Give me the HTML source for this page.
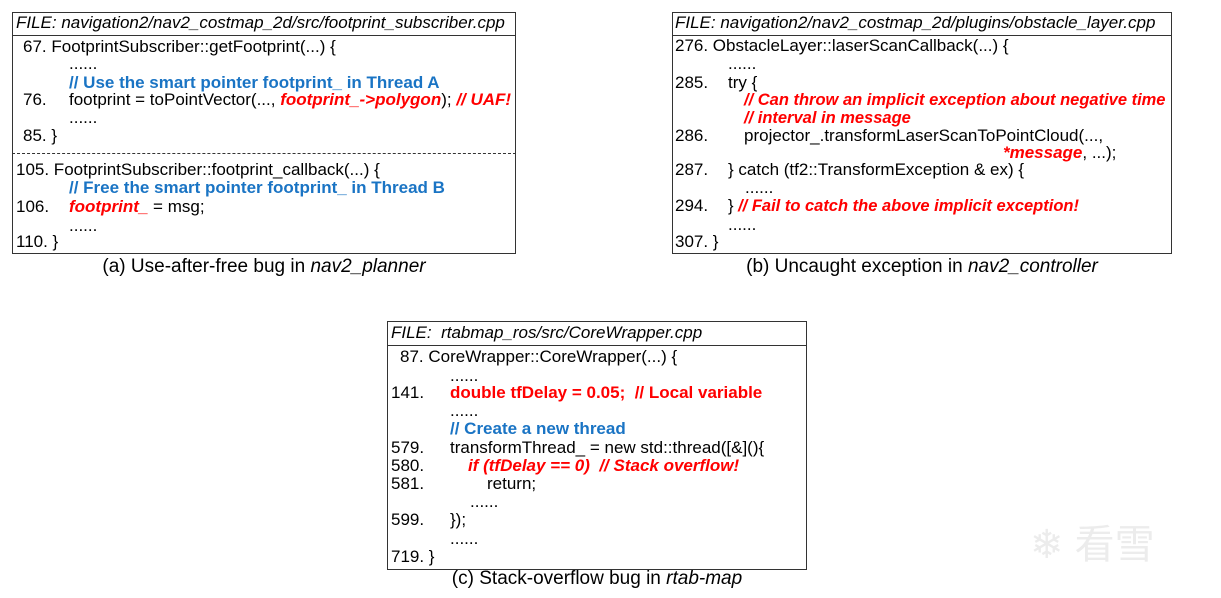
<!DOCTYPE html>
<html><head><meta charset="utf-8"><style>
body{margin:0;width:1221px;height:598px;background:#fff;position:relative;overflow:hidden;font-family:"Liberation Sans","Noto Sans CJK SC",sans-serif;color:#000}
.box{position:absolute;border:1.5px solid #333;box-sizing:border-box}
.hl{position:absolute;height:0;border-top:1.5px solid #333}
.t{position:absolute;white-space:nowrap;font-size:17px;line-height:20px;transform:translateY(-10px)}
.n{transform:translateY(-10px) scaleX(0.97);transform-origin:left center}
.r{color:#f00;font-weight:bold;font-style:italic}
.rb{color:#f00;font-weight:bold}
.b{color:#1a74c4;font-weight:bold}
.i{font-style:italic}
.cap{position:absolute;white-space:nowrap;font-size:19px;transform:translate(-50%,-50%)}
</style></head><body>
<!-- (a) -->
<div class="box" style="left:12px;top:12px;width:504px;height:242px"></div>
<div class="hl" style="left:12px;top:35px;width:504px"></div>
<div class="hl" style="left:12px;top:153px;width:504px;border-top:1.5px dashed #333"></div>
<div class="t i" style="left:16px;top:23px">FILE: navigation2/nav2_costmap_2d/src/footprint_subscriber.cpp</div>
<div class="t" style="left:23px;top:47px">67. FootprintSubscriber::getFootprint(...) {</div>
<div class="t" style="left:69px;top:64px">......</div>
<div class="t b" style="left:69px;top:83px">// Use the smart pointer footprint_ in Thread A</div>
<div class="t" style="left:23px;top:100px">76.</div>
<div class="t" style="left:69px;top:100px">footprint = toPointVector(..., <span class="r">footprint_-&gt;polygon</span>); <span class="r">// UAF!</span></div>
<div class="t" style="left:69px;top:118px">......</div>
<div class="t" style="left:23px;top:136px">85. }</div>
<div class="t" style="left:16px;top:170px">105. FootprintSubscriber::footprint_callback(...) {</div>
<div class="t b" style="left:69px;top:188px">// Free the smart pointer footprint_ in Thread B</div>
<div class="t" style="left:16px;top:207px">106.</div>
<div class="t" style="left:69px;top:207px"><span class="r">footprint_</span> = msg;</div>
<div class="t" style="left:69px;top:226px">......</div>
<div class="t" style="left:16px;top:242px">110. }</div>
<div class="cap" style="left:264px;top:267px">(a) Use-after-free bug in <i>nav2_planner</i></div>
<!-- (b) -->
<div class="box" style="left:672px;top:12px;width:500px;height:242px"></div>
<div class="hl" style="left:672px;top:35px;width:500px"></div>
<div class="t i" style="left:675px;top:23px">FILE: navigation2/nav2_costmap_2d/plugins/obstacle_layer.cpp</div>
<div class="t" style="left:675px;top:46px">276. ObstacleLayer::laserScanCallback(...) {</div>
<div class="t" style="left:728px;top:64px">......</div>
<div class="t" style="left:675px;top:83px">285.</div><div class="t" style="left:728px;top:83px">try {</div>
<div class="t r n" style="left:744px;top:100px">// Can throw an implicit exception about negative time</div>
<div class="t r n" style="left:744px;top:118px">// interval in message</div>
<div class="t" style="left:675px;top:136px">286.</div><div class="t" style="left:744px;top:136px">projector_.transformLaserScanToPointCloud(...,</div>
<div class="t" style="left:1003px;top:153px"><span class="r">*message</span>, ...);</div>
<div class="t" style="left:675px;top:170px">287.</div><div class="t" style="left:728px;top:170px">} catch (tf2::TransformException &amp; ex) {</div>
<div class="t" style="left:745px;top:188px">......</div>
<div class="t" style="left:675px;top:206px">294.</div><div class="t n" style="left:728px;top:206px">} <span class="r">// Fail to catch the above implicit exception!</span></div>
<div class="t" style="left:728px;top:225px">......</div>
<div class="t" style="left:675px;top:242px">307. }</div>
<div class="cap" style="left:922px;top:267px">(b) Uncaught exception in <i>nav2_controller</i></div>
<!-- (c) -->
<div class="box" style="left:387px;top:321px;width:420px;height:249px"></div>
<div class="hl" style="left:387px;top:345px;width:420px"></div>
<div class="t i" style="left:391px;top:333px">FILE:&nbsp; rtabmap_ros/src/CoreWrapper.cpp</div>
<div class="t" style="left:400px;top:357px">87. CoreWrapper::CoreWrapper(...) {</div>
<div class="t" style="left:450px;top:376px">......</div>
<div class="t" style="left:391px;top:393px">141.</div><div class="t rb" style="left:450px;top:393px">double tfDelay = 0.05;&nbsp; // Local variable</div>
<div class="t" style="left:450px;top:411px">......</div>
<div class="t b" style="left:450px;top:429px">// Create a new thread</div>
<div class="t" style="left:391px;top:448px">579.</div><div class="t" style="left:450px;top:448px">transformThread_ = new std::thread([&amp;](){</div>
<div class="t" style="left:391px;top:466px">580.</div><div class="t r" style="left:468px;top:466px">if (tfDelay == 0)&nbsp; // Stack overflow!</div>
<div class="t" style="left:391px;top:484px">581.</div><div class="t" style="left:487px;top:484px">return;</div>
<div class="t" style="left:470px;top:502px">......</div>
<div class="t" style="left:391px;top:520px">599.</div><div class="t" style="left:450px;top:520px">});</div>
<div class="t" style="left:450px;top:539px">......</div>
<div class="t" style="left:391px;top:557px">719. }</div>
<div class="cap" style="left:597px;top:579px">(c) Stack-overflow bug in <i>rtab-map</i></div>
<div style="position:absolute;left:1030px;top:512px;font-size:40px;color:#ececec;white-space:nowrap">❄ 看雪</div>
</body></html>
